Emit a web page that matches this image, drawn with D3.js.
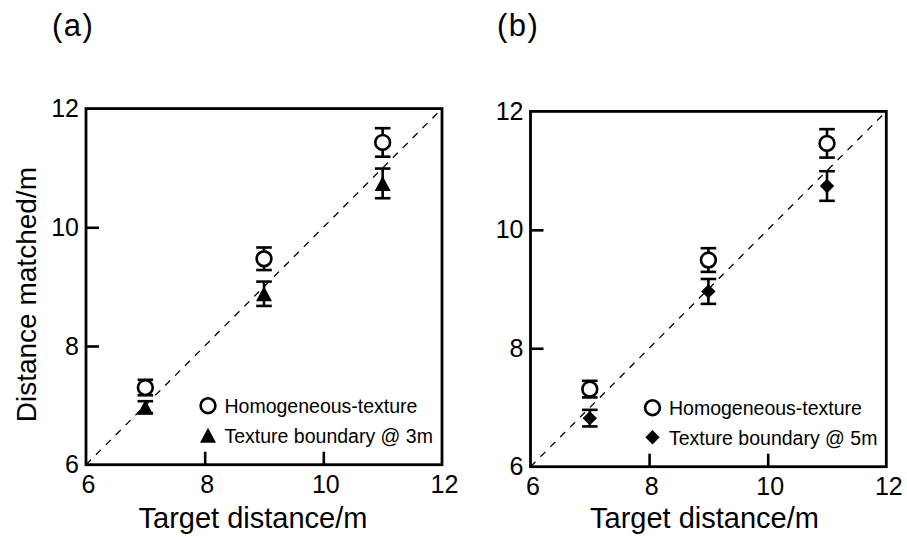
<!DOCTYPE html>
<html>
<head>
<meta charset="utf-8">
<script src="https://cdn.jsdelivr.net/npm/d3@7"></script>
<style>
  html, body { margin: 0; padding: 0; background: #fff; }
  svg { display: block; font-family: "Liberation Sans", Arial, Helvetica, sans-serif; }
</style>
</head>
<body>
<svg id="chart" width="907" height="537"></svg>
<script>
// ---------- data ----------
const targets = [7, 9, 11];
const tickValues = [6, 8, 10, 12];
const panelLabels = ["(a)", "(b)"];
const xTitle = "Target distance/m";
const yTitle = "Distance matched/m";

const homogA = [7.30, 9.47, 11.43];
const homogAErr = [0.13, 0.19, 0.24];
const boundary3 = [6.97, 8.88, 10.74];
const boundary3Err = [0.10, 0.205, 0.25];

const homogB = [7.31, 9.49, 11.46];
const homogBErr = [0.14, 0.20, 0.24];
const boundary5 = [6.82, 8.96, 10.74];
const boundary5Err = [0.14, 0.21, 0.25];

const legendHomog = "Homogeneous-texture";
const legendA = "Texture boundary @ 3m";
const legendB = "Texture boundary @ 5m";

// ---------- layout ----------
const svg = d3.select("#chart");
const panels = [
  { label: panelLabels[0], left: 86, right: 442, top: 108.6, bottom: 464.7, labelX: 52, titleCx: 253, showY: true,
    series: [
      { vals: homogA, err: homogAErr, shape: "circle" },
      { vals: boundary3, err: boundary3Err, shape: "triangle" }
    ],
    legend: [legendHomog, legendA] },
  { label: panelLabels[1], left: 530.5, right: 886.3, top: 111.4, bottom: 466.7, labelX: 497, titleCx: 704.5, showY: false,
    series: [
      { vals: homogB, err: homogBErr, shape: "circle" },
      { vals: boundary5, err: boundary5Err, shape: "diamond" }
    ],
    legend: [legendHomog, legendB] }
];

function drawMarker(g, shape, x, y) {
  if (shape === "circle") {
    g.append("circle").attr("cx", x).attr("cy", y).attr("r", 7.4)
      .attr("fill", "#fff").attr("stroke", "#000").attr("stroke-width", 2.6);
  } else if (shape === "triangle") {
    const w = 16, h = 15;
    g.append("path")
      .attr("d", `M${x},${y - h / 2}L${x + w / 2},${y + h / 2}L${x - w / 2},${y + h / 2}Z`)
      .attr("fill", "#000");
  } else {
    const r = 7.2;
    g.append("path")
      .attr("d", `M${x},${y - r}L${x + r},${y}L${x},${y + r}L${x - r},${y}Z`)
      .attr("fill", "#000");
  }
}

panels.forEach(p => {
  const x = d3.scaleLinear().domain([6, 12]).range([p.left, p.right]);
  const y = d3.scaleLinear().domain([6, 12]).range([p.bottom, p.top]);
  const g = svg.append("g");

  // panel label
  g.append("text").attr("x", p.labelX).attr("y", 36)
    .style("font-size", "31px").attr("letter-spacing", 1.5).text(p.label);

  // diagonal dashed line
  g.append("line")
    .attr("x1", x(6)).attr("y1", y(6)).attr("x2", x(12)).attr("y2", y(12))
    .attr("stroke", "#000").attr("stroke-width", 1.3).attr("stroke-dasharray", "7,7");

  // axes
  const fmt = d3.format("d");
  const xAxis = g.append("g").attr("transform", `translate(0,${p.bottom})`)
    .call(d3.axisBottom(x).tickValues(tickValues).tickFormat(fmt).tickSizeInner(-13).tickSizeOuter(0).tickPadding(11));
  const yAxis = g.append("g").attr("transform", `translate(${p.left},0)`)
    .call(d3.axisLeft(y).tickValues(tickValues).tickFormat(fmt).tickSizeInner(-13).tickSizeOuter(0).tickPadding(7));
  [xAxis, yAxis].forEach(a => {
    a.attr("font-size", null).attr("font-family", null);
    a.select(".domain").remove();
    a.selectAll(".tick line").attr("stroke", "#000").attr("stroke-width", 2.6);
    a.selectAll(".tick text").style("font-size", "25px").attr("fill", "#000")
      .style("font-family", "'Liberation Sans', Arial, sans-serif");
  });
  xAxis.selectAll(".tick text").attr("dx", 2);
  // corner ticks coincide with the frame
  xAxis.selectAll(".tick").filter(d => d === 6 || d === 12).select("line").remove();
  yAxis.selectAll(".tick").filter(d => d === 6 || d === 12).select("line").remove();

  // frame
  g.append("rect").attr("x", p.left).attr("y", p.top)
    .attr("width", p.right - p.left).attr("height", p.bottom - p.top)
    .attr("fill", "none").attr("stroke", "#000").attr("stroke-width", 2.8);

  // axis titles
  g.append("text").attr("x", p.titleCx).attr("y", 527.5).attr("text-anchor", "middle")
    .style("font-size", "29px").text(xTitle);
  if (p.showY) {
    g.append("text").attr("transform", `translate(36,${(p.top + p.bottom) / 2 + 8}) rotate(-90)`)
      .attr("text-anchor", "middle").style("font-size", "28px").text(yTitle);
  }

  // data: error bars then markers
  p.series.forEach(s => {
    targets.forEach((t, i) => {
      const cx = x(t), lo = y(s.vals[i] - s.err[i]), hi = y(s.vals[i] + s.err[i]);
      const cap = 7.8;
      g.append("line").attr("x1", cx).attr("x2", cx).attr("y1", lo).attr("y2", hi)
        .attr("stroke", "#000").attr("stroke-width", 2.6);
      [lo, hi].forEach(yy => g.append("line").attr("x1", cx - cap).attr("x2", cx + cap)
        .attr("y1", yy).attr("y2", yy).attr("stroke", "#000").attr("stroke-width", 2.6));
    });
  });
  p.series.forEach(s => {
    targets.forEach((t, i) => drawMarker(g, s.shape, x(t), y(s.vals[i])));
  });

  // legend
  const lx = p.left + 122, ly = p.bottom - 59;
  p.series.forEach((s, i) => {
    const yy = ly + i * 29.5;
    drawMarker(g, s.shape, lx, yy);
    g.append("text").attr("x", lx + 16.5).attr("y", yy + 7.3)
      .style("font-size", "19.5px").text(p.legend[i]);
  });
});
</script>
</body>
</html>
